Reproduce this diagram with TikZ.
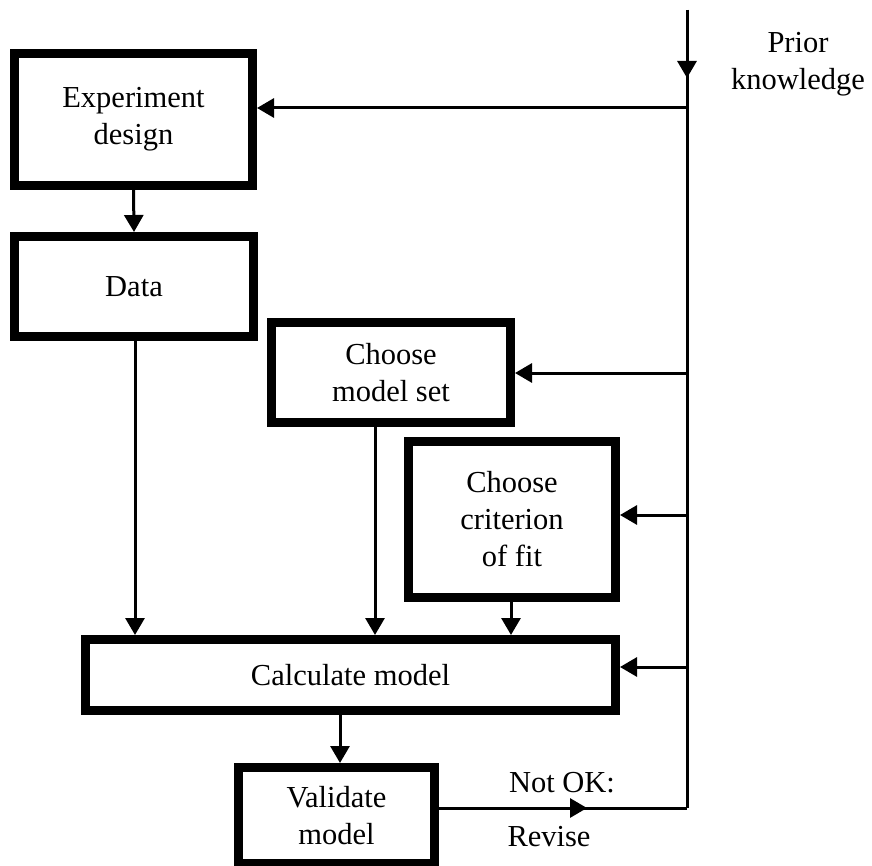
\documentclass[tikz,border=0pt]{standalone}
\usepackage{fontspec}
\setmainfont{Liberation Serif}
\usetikzlibrary{arrows.meta}
\begin{document}
\begin{tikzpicture}[x=1pt,y=-1pt,
  block/.style={draw, line width=9pt, fill=white, align=center, inner sep=0pt,
    font=\fontsize{30.5}{37}\selectfont},
  lbl/.style={align=center, inner sep=0pt, font=\fontsize{30.5}{37}\selectfont},
  conn/.style={line width=3pt},
  arr/.style={conn, -{Triangle[length=17pt,width=19pt]}}]
\useasboundingbox (0,0) rectangle (872,866);

% process boxes
\node[block, minimum width=238pt, minimum height=132pt] (exp)  at (133.5,119.5) {Experiment\\design};
\node[block, minimum width=239pt, minimum height=100pt] (data) at (134,286.5) {Data};
\node[block, minimum width=239pt, minimum height=100pt] (mset) at (391,372.5) {Choose\\model set};
\node[block, minimum width=207pt, minimum height=156pt] (crit) at (512,519.5) {Choose\\criterion\\of fit};
\node[block, minimum width=530pt, minimum height=71pt]  (calc) at (350.5,675) {Calculate model};
\node[block, minimum width=196pt, minimum height=96pt]  (val)  at (336.5,815.5) {Validate\\model};

% prior knowledge bus
\coordinate (top) at (687,10);
\coordinate (busend) at (687,808);
\coordinate (b1) at (687,108);
\coordinate (b2) at (687,373);
\coordinate (b3) at (687,515);
\coordinate (b4) at (687,667);
\draw[conn] (top) -- (busend);
\draw[arr] (top) -- ++(0,68);
\node[lbl] (prior) at (798,64) {Prior\\knowledge};

\draw[arr] (b1) -- (b1 -| exp.east);
\draw[arr] (b2) -- (b2 -| mset.east);
\draw[arr] (b3) -- (b3 -| crit.east);
\draw[arr] (b4) -- (b4 -| calc.east);

% main flow
\draw[arr] (exp.south) -- (data.north);
\draw[arr] ([xshift=1pt]data.south) -- ([xshift=1pt]data.south |- calc.north);
\draw[arr] ([xshift=-16pt]mset.south) -- ([xshift=-16pt]mset.south |- calc.north);
\draw[arr] ([xshift=-1pt]crit.south) -- ([xshift=-1pt]crit.south |- calc.north);
\draw[arr] ([xshift=3.5pt]val.north |- calc.south) -- ([xshift=3.5pt]val.north);

% revision loop
\draw[conn] (busend -| val.east) -- (busend);
\draw[arr] (busend -| val.east) -- ++(148,0);
\node[lbl] (notok)  at (562,783) {Not OK:};
\node[lbl] (revise) at (549,837) {Revise};
\end{tikzpicture}
\end{document}
